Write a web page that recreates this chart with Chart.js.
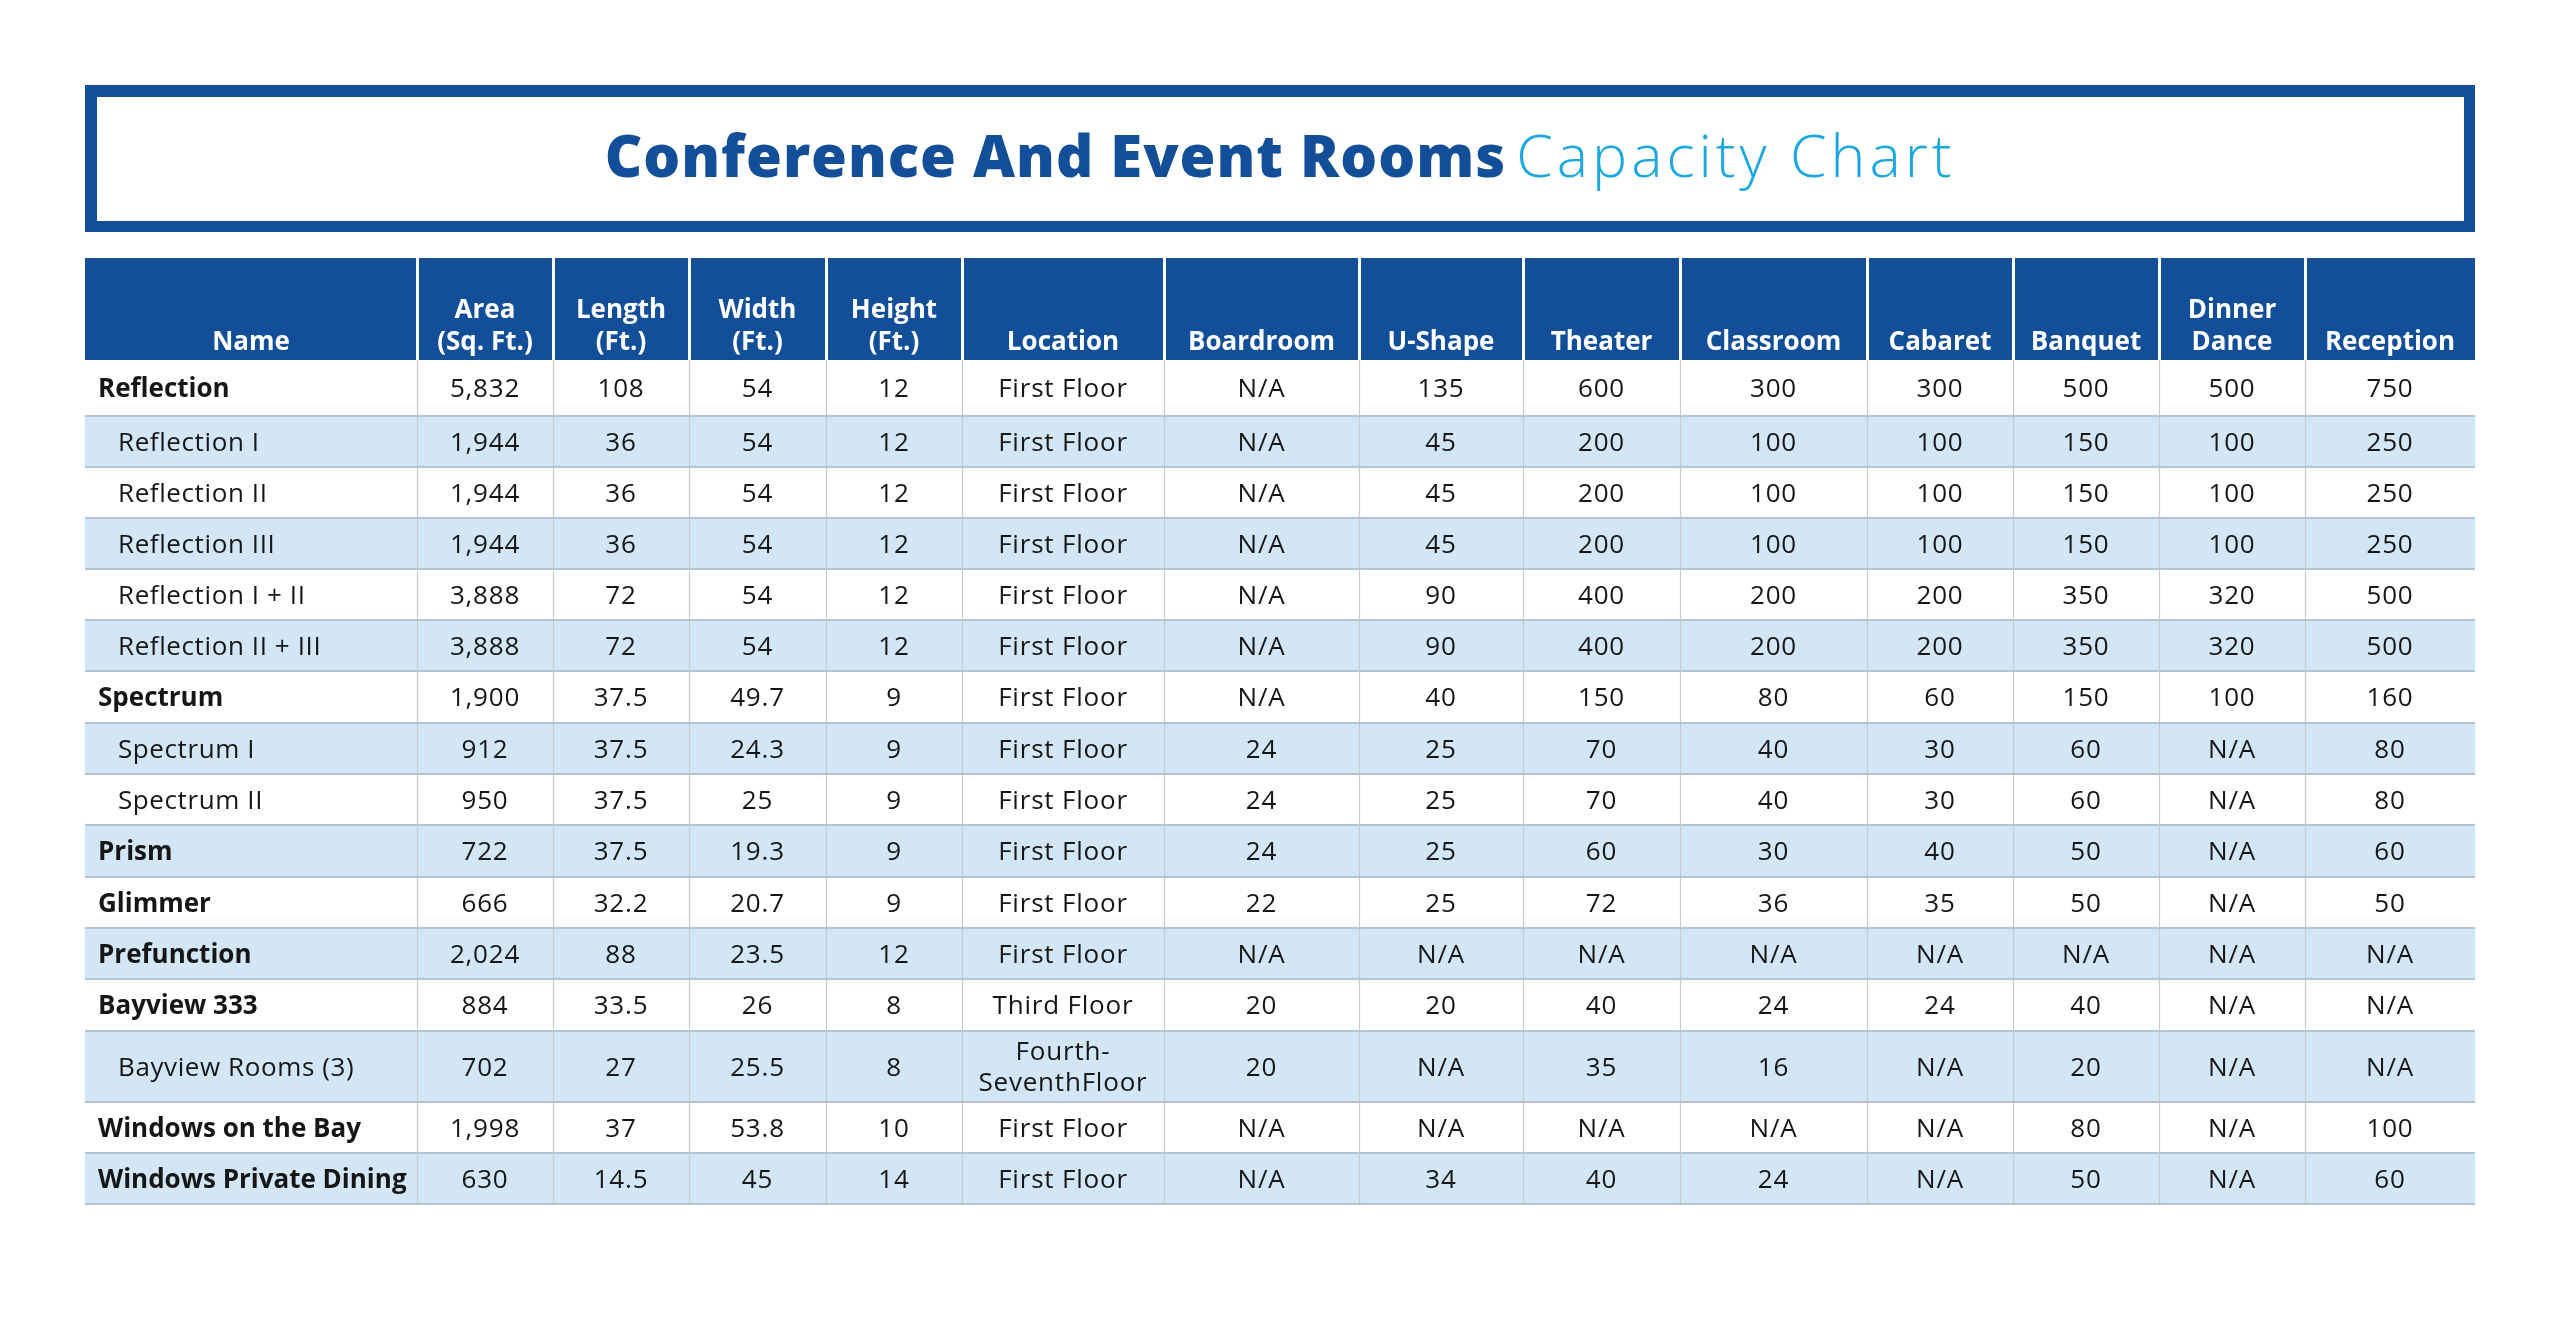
<!DOCTYPE html>
<html>
<head>
<meta charset="utf-8">
<title>Conference And Event Rooms Capacity Chart</title>
<script src="https://cdn.jsdelivr.net/npm/chart.js@4/dist/chart.umd.min.js"></script>
<style>
  html, body { margin: 0; padding: 0; background: #ffffff; }
  #wrap { width: 2560px; height: 1323px; position: relative; }
</style>
</head>
<body>
<div id="wrap"><canvas id="capacityChart"></canvas></div>
<script>
// --- Table data ---
const headers = [
  ["Name"], ["Area", "(Sq. Ft.)"], ["Length", "(Ft.)"], ["Width", "(Ft.)"],
  ["Height", "(Ft.)"], ["Location"], ["Boardroom"], ["U-Shape"], ["Theater"],
  ["Classroom"], ["Cabaret"], ["Banquet"], ["Dinner", "Dance"], ["Reception"]
];

const roomNames = [
  "Reflection", "Reflection I", "Reflection II", "Reflection III",
  "Reflection I + II", "Reflection II + III", "Spectrum", "Spectrum I",
  "Spectrum II", "Prism", "Glimmer", "Prefunction", "Bayview 333",
  "Bayview Rooms (3)", "Windows on the Bay", "Windows Private Dining"
];
const isSubRoom = [false, true, true, true, true, true, false, true, true,
  false, false, false, false, true, false, false];

const area = [5832, 1944, 1944, 1944, 3888, 3888, 1900, 912, 950, 722, 666, 2024, 884, 702, 1998, 630];
const lengthFt = [108, 36, 36, 36, 72, 72, 37.5, 37.5, 37.5, 37.5, 32.2, 88, 33.5, 27, 37, 14.5];
const widthFt = [54, 54, 54, 54, 54, 54, 49.7, 24.3, 25, 19.3, 20.7, 23.5, 26, 25.5, 53.8, 45];
const heightFt = [12, 12, 12, 12, 12, 12, 9, 9, 9, 9, 9, 12, 8, 8, 10, 14];
const locations = [
  "First Floor", "First Floor", "First Floor", "First Floor", "First Floor",
  "First Floor", "First Floor", "First Floor", "First Floor", "First Floor",
  "First Floor", "First Floor", "Third Floor", "Fourth-\nSeventhFloor",
  "First Floor", "First Floor"
];
// null = N/A
const boardroom = [null, null, null, null, null, null, null, 24, 24, 24, 22, null, 20, 20, null, null];
const uShape = [135, 45, 45, 45, 90, 90, 40, 25, 25, 25, 25, null, 20, null, null, 34];
const theater = [600, 200, 200, 200, 400, 400, 150, 70, 70, 60, 72, null, 40, 35, null, 40];
const classroom = [300, 100, 100, 100, 200, 200, 80, 40, 40, 30, 36, null, 24, 16, null, 24];
const cabaret = [300, 100, 100, 100, 200, 200, 60, 30, 30, 40, 35, null, 24, null, null, null];
const banquet = [500, 150, 150, 150, 350, 350, 150, 60, 60, 50, 50, null, 40, 20, 80, 50];
const dinnerDance = [500, 100, 100, 100, 320, 320, 100, null, null, null, null, null, null, null, null, null];
const reception = [750, 250, 250, 250, 500, 500, 160, 80, 80, 60, 50, null, null, null, 100, 60];

const columnValues = [roomNames, area, lengthFt, widthFt, heightFt, locations, boardroom,
  uShape, theater, classroom, cabaret, banquet, dinnerDance, reception];

// --- Layout (table units) ---
const colWidths = [332, 136, 136, 137, 136, 202, 195, 164, 157, 187, 146, 146, 146, 170];
const headerHeight = 102;
const rowHeights = [56, 51, 51, 51, 51, 51, 52, 51, 51, 52, 51, 51, 52, 71, 51, 51];

const colEdges = [0];
colWidths.forEach(w => colEdges.push(colEdges[colEdges.length - 1] + w));
const rowEdges = [headerHeight];
rowHeights.forEach(h => rowEdges.push(rowEdges[rowEdges.length - 1] + h));
const tableWidth = colEdges[colEdges.length - 1];
const tableHeight = rowEdges[rowEdges.length - 1];

const BLUE = "#134f98";
const CYAN = "#1ca8de";
const STRIPE = "#d3e6f6";
const TEXT = "#161616";
const FONT = "'Open Sans', 'Liberation Sans', sans-serif";

function cellText(c, r) {
  const v = columnValues[c][r];
  if (v === null || v === undefined) return "N/A";
  if (c === 1) return v.toLocaleString("en-US");
  return String(v);
}

// one invisible point per cell, placed through the scales; text is drawn at it
const datasets = columnValues.map((vals, c) => ({
  label: headers[c].join(" "),
  data: vals.map((_, r) => ({
    x: (colEdges[c] + colEdges[c + 1]) / 2,
    y: (rowEdges[r] + rowEdges[r + 1]) / 2
  })),
  pointRadius: 0,
  pointHoverRadius: 0
}));

const tablePlugin = {
  id: "capacityTable",
  beforeDatasetsDraw(chart) {
    const ctx = chart.ctx;
    const xs = chart.scales.x, ys = chart.scales.y;
    const left = xs.getPixelForValue(0), right = xs.getPixelForValue(tableWidth);

    // title box
    ctx.save();
    ctx.fillStyle = BLUE;
    ctx.fillRect(left, 85, right - left, 147);
    ctx.fillStyle = "#ffffff";
    ctx.fillRect(left + 12, 97, right - left - 23, 124);

    const boldPart = "Conference And Event Rooms";
    const lightPart = "Capacity Chart";
    const boldFont = "800 58px " + FONT;
    const lightFont = "300 59px " + FONT;
    ctx.font = boldFont;
    ctx.letterSpacing = "1px";
    const w1 = ctx.measureText(boldPart).width;
    ctx.font = lightFont;
    ctx.letterSpacing = "4px";
    const w2 = ctx.measureText(lightPart).width;
    const gap = 10;
    const tx = (left + right) / 2 - (w1 + gap + w2) / 2;
    ctx.textBaseline = "alphabetic";
    ctx.textAlign = "left";
    ctx.font = boldFont;
    ctx.letterSpacing = "1px";
    ctx.fillStyle = BLUE;
    ctx.fillText(boldPart, tx, 177);
    ctx.font = lightFont;
    ctx.letterSpacing = "4px";
    ctx.fillStyle = CYAN;
    ctx.fillText(lightPart, tx + w1 + gap, 177);
    ctx.letterSpacing = "0px";

    // header band
    const hTop = ys.getPixelForValue(0), hBot = ys.getPixelForValue(headerHeight);
    ctx.fillStyle = BLUE;
    ctx.fillRect(left, hTop, right - left, hBot - hTop);

    // row stripes
    rowHeights.forEach((h, r) => {
      if (r % 2 === 1) {
        const y0 = ys.getPixelForValue(rowEdges[r]);
        const y1 = ys.getPixelForValue(rowEdges[r + 1]);
        ctx.fillStyle = STRIPE;
        ctx.fillRect(left, y0, right - left, y1 - y0);
      }
    });

    // vertical lines
    const bottom = ys.getPixelForValue(tableHeight);
    for (let c = 1; c < colEdges.length - 1; c++) {
      const x = Math.round(xs.getPixelForValue(colEdges[c])) + 0.5;
      ctx.strokeStyle = "#ffffff";
      ctx.lineWidth = 3;
      ctx.beginPath(); ctx.moveTo(x, hTop); ctx.lineTo(x, hBot); ctx.stroke();
      ctx.strokeStyle = "#c8cacc";
      ctx.lineWidth = 1.2;
      ctx.beginPath(); ctx.moveTo(x, hBot); ctx.lineTo(x, bottom); ctx.stroke();
    }
    // horizontal lines
    ctx.strokeStyle = "#b4c4d5";
    ctx.lineWidth = 2;
    for (let r = 1; r < rowEdges.length; r++) {
      const y = ys.getPixelForValue(rowEdges[r]);
      ctx.beginPath(); ctx.moveTo(left, y); ctx.lineTo(right, y); ctx.stroke();
    }

    // header labels, bottom aligned
    ctx.fillStyle = "#ffffff";
    ctx.textAlign = "center";
    ctx.font = "700 26px " + FONT;
    headers.forEach((lines, c) => {
      const cx = xs.getPixelForValue((colEdges[c] + colEdges[c + 1]) / 2);
      lines.forEach((line, i) => {
        const yb = hBot - 10 - (lines.length - 1 - i) * 32;
        ctx.fillText(line, cx, yb);
      });
    });
    ctx.restore();
  },
  afterDatasetsDraw(chart) {
    const ctx = chart.ctx;
    const xs = chart.scales.x;
    ctx.save();
    ctx.fillStyle = TEXT;
    ctx.textBaseline = "alphabetic";
    chart.data.datasets.forEach((ds, c) => {
      const meta = chart.getDatasetMeta(c);
      meta.data.forEach((pt, r) => {
        const txt = cellText(c, r);
        if (c === 0) {
          const bold = !isSubRoom[r];
          ctx.font = (bold ? "700 " : "400 ") + "26px " + FONT;
          ctx.letterSpacing = bold ? "0px" : "0.6px";
          ctx.textAlign = "left";
          const x0 = xs.getPixelForValue(colEdges[0]) + (bold ? 13 : 33);
          ctx.fillText(txt, x0, pt.y + 9);
        } else {
          ctx.font = "400 26px " + FONT;
          ctx.letterSpacing = "0.8px";
          ctx.textAlign = "center";
          const lines = txt.split("\n");
          lines.forEach((line, i) => {
            const off = (i - (lines.length - 1) / 2) * 31;
            ctx.fillText(line, pt.x, pt.y + 9 + off);
          });
        }
      });
    });
    ctx.restore();
  }
};

new Chart(document.getElementById("capacityChart"), {
  type: "scatter",
  data: { datasets: datasets },
  options: {
    responsive: true,
    maintainAspectRatio: false,
    animation: false,
    events: [],
    layout: { padding: { left: 85, right: 85, top: 258, bottom: 119 } },
    plugins: {
      legend: { display: false },
      tooltip: { enabled: false },
      title: { display: false }
    },
    scales: {
      x: { type: "linear", min: 0, max: tableWidth, display: false },
      y: { type: "linear", min: 0, max: tableHeight, reverse: true, display: false }
    }
  },
  plugins: [tablePlugin]
});
</script>
</body>
</html>
